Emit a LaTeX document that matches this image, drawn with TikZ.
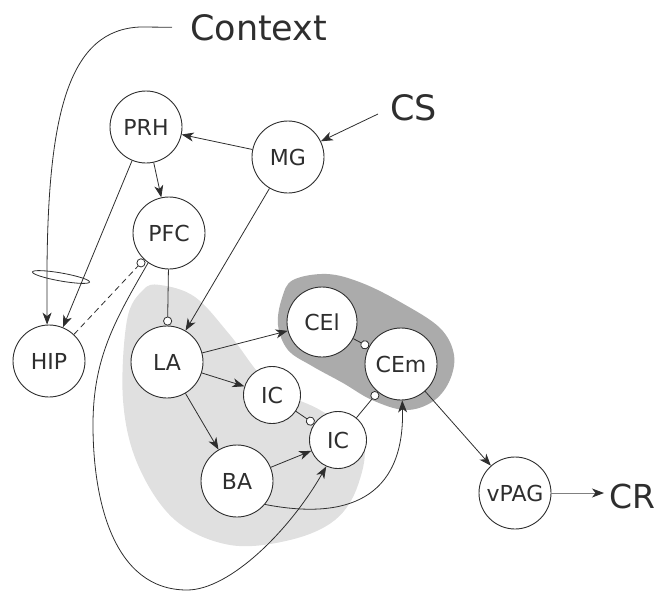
\documentclass[tikz,border=0pt]{standalone}
\usepackage{fontspec}
\setmainfont{DejaVu Sans}
\usetikzlibrary{arrows.meta}
\definecolor{lgray}{HTML}{E0E0E0}
\definecolor{dgray}{HTML}{ABABAB}
\definecolor{ln}{HTML}{2E2E2E}
\begin{document}
\begin{tikzpicture}[x=1pt,y=-1pt,
  nd/.style={circle,draw=ln,fill=white,line width=0.9pt,minimum size=72pt,inner sep=0pt,
    font=\fontsize{22}{22}\selectfont,text=ln},
  sm/.style={nd,minimum size=57pt},
  big/.style={font=\fontsize{35}{35}\selectfont,text=ln,inner sep=0pt,anchor=base west},
  con/.style={draw=ln,line width=0.8pt,-{Stealth[length=12pt,width=9pt,inset=3.5pt]}},
  inh/.style={draw=ln,line width=0.8pt,-{Circle[length=9pt,fill=white]}}]
\useasboundingbox (0,0) rectangle (659,592);

% shaded regions
\fill[lgray] plot[smooth cycle, tension=0.6] coordinates {
  (160,285) (195,297) (230,335) (270,385) (320,410) (362,440) (358,485)
  (335,520) (290,540) (230,545) (175,520) (138,465) (123,400) (127,320) (143,290)};
\fill[dgray] plot[smooth cycle, tension=0.6] coordinates {
  (293,280) (327,274) (362,283) (402,303) (440,328) (454,355) (449,382)
  (432,402) (405,410) (372,400) (343,383) (312,366) (288,350) (278,325) (282,298)};

% nodes
\node[nd] (PRH) at (146,127) {PRH};
\node[nd] (MG) at (288,157) {MG};
\node[nd] (PFC) at (169,233) {PFC};
\node[nd] (HIP) at (49,361) {HIP};
\node[nd] (LA) at (167,362) {LA};
\node[sm] (IC1) at (272,395) {IC};
\node[nd] (BA) at (237,481) {BA};
\node[nd,minimum size=70pt] (CEl) at (322,322) {CEl};
\node[nd] (CEm) at (401,364) {CEm};
\node[sm] (IC2) at (338,440) {IC};
\node[nd] (vPAG) at (515,493) {vPAG};

\node[big] (ctx) at (190,40) {Context};
\node[big] (CS) at (390,120) {CS};
\node[big,font=\fontsize{33}{33}\selectfont] (CR) at (609,508) {CR};
\coordinate (csp) at (378,114);

% connectors
\draw[con] ([xshift=-18pt]ctx.west) -- (140,27) .. controls (70,30) and (48,110) .. (47,270) -- (HIP.93);
\draw[con] (PRH) -- (HIP);
\draw[draw=ln,line width=0.8pt,rotate around={-10:(61,277)}] (61,277) ellipse [x radius=29, y radius=4];
\draw[con] (MG) -- (PRH);
\draw[con] (csp) -- (MG);
\draw[con] (PRH) -- (PFC);
\draw[con] (MG) -- (LA);
\draw[inh] (PFC) -- (LA);
\draw[inh,dash pattern=on 6pt off 4pt] (HIP) -- (PFC);
\draw[con] (PFC.235) to[out=240,in=90] (93,425) to[out=270,in=180] (187,590)
  .. controls (230,590) and (290,530) .. (IC2.246);
\draw[con] (LA) -- (CEl);
\draw[con] (LA) -- (IC1);
\draw[con] (LA) -- (BA);
\draw[inh] (IC1) -- (IC2);
\draw[con] (BA) -- (IC2);
\draw[con] (BA.-40) .. controls (345,520) and (405,500) .. (CEm.272);
\draw[inh] (IC2) -- (CEm);
\draw[inh] (CEl) -- (CEm);
\draw[con] (CEm) -- (vPAG);
\draw[con,draw=gray,shorten >=5pt,-{Stealth[length=12pt,width=9pt,inset=3.5pt,color=ln]}] (vPAG.east) -- (vPAG.east -| CR.west);
\end{tikzpicture}
\end{document}
